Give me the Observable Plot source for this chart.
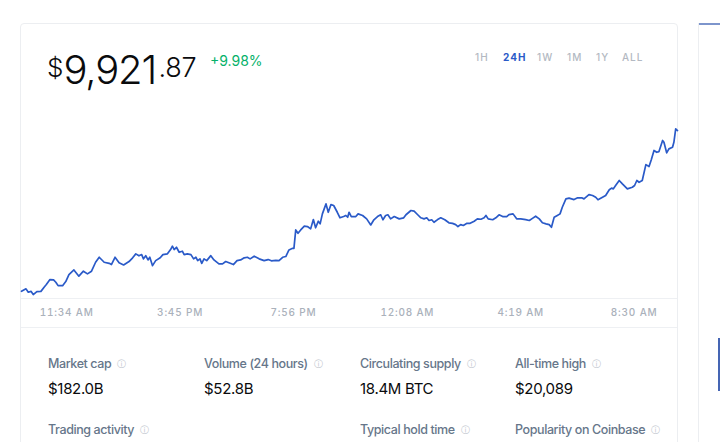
<!DOCTYPE html>
<html><head><meta charset="utf-8">
<script src="https://cdn.jsdelivr.net/npm/d3@7"></script>
<script src="https://cdn.jsdelivr.net/npm/@observablehq/plot@0.6"></script>
<style>
html,body{margin:0;padding:0;background:#fff;}
body{width:720px;height:442px;overflow:hidden;position:relative;font-family:Inter,"Noto Sans",sans-serif;}
.abs{position:absolute;white-space:nowrap;}
.card{position:absolute;left:20px;top:23px;width:656px;height:460px;border:1px solid #eceef1;border-radius:4px;}
.sep{position:absolute;left:21px;width:656px;height:1px;background:#eef0f3;}
.range{font-size:10px;line-height:10px;letter-spacing:1px;color:#b3b9c2;font-weight:500;}
.range.active{color:#2a5ac8;font-weight:700;}
.lab{font-size:12.5px;line-height:12.5px;color:#66768a;font-weight:500;letter-spacing:-0.4px;}
.lab .i{font-family:"DejaVu Sans";font-size:9px;color:#bcc3cb;margin-left:6px;vertical-align:1px;letter-spacing:0;}
.val{font-size:15px;line-height:15px;color:#0a0b0d;font-weight:400;letter-spacing:-0.3px;}
g[aria-label="x-axis tick label"] text{letter-spacing:0.8px;}
#chart{position:absolute;left:20px;top:100px;}
</style></head><body>
<div class="card"></div>
<div class="abs" style="left:698px;top:23px;width:1px;height:420px;background:#eceef1"></div>
<div class="abs" style="left:699px;top:23px;width:21px;height:2px;background:#7d95cc"></div>
<div class="abs" style="left:718px;top:338px;width:2px;height:53px;background:#4565b4"></div>
<div class="sep" style="top:327px"></div>
<div id="header"></div>
<div id="chart"></div>
<div id="stats"></div>
<script>
const startTime = "2020-05-06T09:54";
const minutes = [0,10,15,21,26,34,43,50,55,63,71,76,81,91,98,105,116,127,137,146,155,164,172,183,194,199,207,216,226,238,246,253,260,266,270,275,280,284,290,297,307,313,323,330,334,338,343,349,356,360,367,375,381,386,390,395,399,404,410,419,426,437,445,452,462,469,477,485,493,500,506,515,526,537,546,553,563,570,578,585,592,600,603,607,612,618,626,633,640,646,651,657,661,666,674,679,685,691,699,705,713,718,722,725,730,740,745,755,764,773,780,788,795,800,806,811,817,825,836,846,851,862,869,877,884,891,897,902,908,913,921,928,937,946,954,961,966,972,978,986,993,1002,1009,1017,1024,1028,1033,1043,1050,1057,1065,1074,1079,1088,1096,1105,1116,1124,1131,1138,1146,1153,1161,1168,1173,1179,1186,1192,1197,1205,1212,1223,1231,1240,1245,1256,1264,1271,1276,1286,1293,1301,1306,1310,1315,1323,1330,1341,1352,1357,1362,1367,1374,1382,1389,1394,1400,1406,1411,1419,1422,1428,1433,1441,1444,1448,1452];
const prices = [9021,9035,9016,9021,9003,9020,9021,9044,9059,9087,9085,9072,9053,9053,9076,9115,9141,9106,9134,9119,9134,9184,9212,9184,9178,9171,9212,9181,9169,9188,9209,9231,9220,9227,9203,9221,9197,9212,9165,9193,9209,9227,9231,9255,9274,9255,9268,9240,9246,9227,9231,9227,9203,9212,9193,9203,9178,9203,9193,9221,9197,9175,9175,9188,9178,9171,9193,9197,9209,9212,9203,9218,9203,9193,9199,9192,9195,9193,9212,9216,9253,9262,9262,9365,9346,9365,9386,9384,9371,9423,9377,9414,9399,9455,9511,9464,9507,9502,9464,9433,9440,9446,9436,9464,9440,9440,9455,9446,9427,9393,9422,9440,9450,9422,9446,9450,9427,9440,9427,9433,9450,9474,9470,9450,9433,9427,9433,9418,9422,9408,9423,9433,9422,9405,9402,9395,9384,9395,9390,9402,9402,9414,9427,9425,9433,9446,9427,9422,9433,9450,9440,9440,9451,9455,9427,9427,9423,9418,9430,9442,9427,9405,9399,9395,9380,9436,9446,9455,9492,9539,9543,9535,9545,9545,9539,9563,9558,9548,9534,9548,9558,9590,9599,9595,9614,9642,9623,9595,9604,9614,9642,9632,9642,9731,9720,9758,9810,9800,9804,9866,9856,9797,9819,9828,9856,9931,9921.87];
const yDomain = [8981, 9978];
const tickTimes = ["2020-05-06T11:34","2020-05-06T15:45","2020-05-06T19:56","2020-05-07T00:08","2020-05-07T04:19","2020-05-07T08:30"];
const tickLabels = ["11:34 AM","3:45 PM","7:56 PM","12:08 AM","4:19 AM","8:30 AM"];
const priceParts = ["$","9,921",".87"];
const changeText = "+9.98%";
const ranges = ["1H","24H","1W","1M","1Y","ALL"];
const activeRange = "24H";
const statLabels = ["Market cap","Volume (24 hours)","Circulating supply","All-time high"];
const statValues = ["$182.0B","$52.8B","18.4M BTC","$20,089"];
const statLabels2 = ["Trading activity","","Typical hold time","Popularity on Coinbase"];

// header
const header = document.getElementById("header");
const partStyle = [
  {left:47, top:55, size:26, ls:0},
  {left:63.5, top:50.4, size:40, ls:-1.2},
  {left:158.5, top:54, size:27, ls:-0.3}
];
priceParts.forEach((p,i)=>{
  const s=document.createElement("div"); s.className="abs"; s.textContent=p;
  const st=partStyle[i];
  Object.assign(s.style,{left:st.left+"px",top:st.top+"px",fontSize:st.size+"px",lineHeight:st.size+"px",fontWeight:300,color:"#0a0b0d",letterSpacing:st.ls+"px"});
  header.appendChild(s);
});
const ch=document.createElement("div"); ch.className="abs"; ch.textContent=changeText;
Object.assign(ch.style,{left:"210px",top:"53.6px",fontSize:"14px",lineHeight:"14px",color:"#05b169"});
header.appendChild(ch);
const rangeLeft=[475,503,537,567,596,622];
ranges.forEach((r,i)=>{
  const s=document.createElement("div"); s.className="abs range"+(r===activeRange?" active":""); s.textContent=r;
  s.style.left=rangeLeft[i]+"px"; s.style.top="51.5px"; header.appendChild(s);
});

// chart
const t0 = new Date(startTime);
const data = minutes.map((m,i)=>({date:new Date(+t0 + m*60000), price:prices[i]}));
const ticks = tickTimes.map(s=>new Date(s));
const labelMap = new Map(ticks.map((d,i)=>[+d, tickLabels[i]]));
const chart = Plot.plot({
  width:658, height:228, marginLeft:1, marginRight:1, marginTop:20, marginBottom:30,
  x:{type:"time", domain:[data[0].date, data[data.length-1].date], axis:null},
  y:{domain:yDomain, axis:null},
  style:{background:"transparent", fontFamily:"Inter, sans-serif", overflow:"visible"},
  marks:[
    Plot.ruleY([yDomain[0]],{stroke:"#eef0f3", strokeWidth:1}),
    Plot.axisX(ticks,{tickSize:0, tickPadding:10, tickFormat:d=>labelMap.get(+d), color:"#aab1bb", fontSize:10, fontWeight:500}),
    Plot.line(data,{x:"date", y:"price", stroke:"#2a5ac8", strokeWidth:1.7, strokeLinejoin:"round"})
  ]
});
document.getElementById("chart").appendChild(chart);

// stats
const stats=document.getElementById("stats");
const colLeft=[48,204,360,515];
function addLabel(text,left,top){
  if(!text) return;
  const s=document.createElement("div"); s.className="abs lab";
  s.style.left=left+"px"; s.style.top=top+"px";
  s.appendChild(document.createTextNode(text));
  const ic=document.createElement("span"); ic.className="i"; ic.textContent="\u24D8"; s.appendChild(ic);
  stats.appendChild(s);
}
statLabels.forEach((t,i)=>addLabel(t,colLeft[i],357.5));
statValues.forEach((t,i)=>{
  const s=document.createElement("div"); s.className="abs val"; s.textContent=t;
  s.style.left=colLeft[i]+"px"; s.style.top="380.5px"; stats.appendChild(s);
});
statLabels2.forEach((t,i)=>addLabel(t,colLeft[i],423.5));
</script>
</body></html>
